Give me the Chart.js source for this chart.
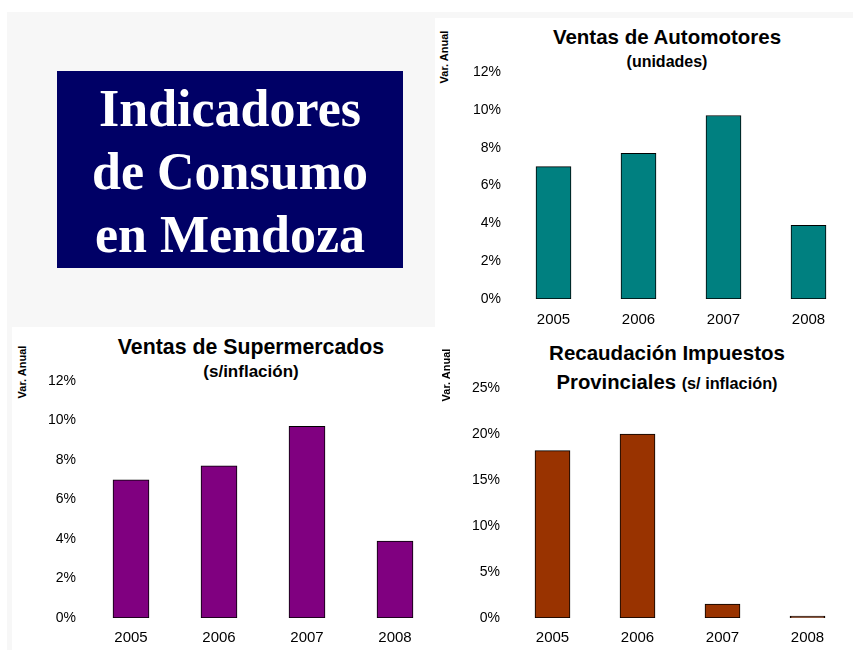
<!DOCTYPE html>
<html>
<head>
<meta charset="utf-8">
<script src="https://cdn.jsdelivr.net/npm/chart.js@4"></script>
<style>
  html, body { margin: 0; padding: 0; background: #fff; }
  body { width: 853px; height: 650px; position: relative; overflow: hidden;
         font-family: "Liberation Sans", Arial, sans-serif; }
  .gray { position: absolute; background: #f7f7f7; }
  .box { position: absolute; left: 57px; top: 71px; width: 346px; height: 197px;
         background: #000066; color: #fff; text-align: center; box-sizing: border-box;
         padding-top: 6px; font-family: "Liberation Serif", "Times New Roman", serif;
         font-weight: bold; font-size: 52px; line-height: 63px; }
  .chart { position: absolute; }
  .title { position: absolute; width: 400px; text-align: center; font-weight: bold;
           color: #000; white-space: nowrap; }
  .ytitle { position: absolute; font-weight: bold; font-size: 11px; white-space: nowrap;
            transform: translate(-50%, -50%) rotate(-90deg); color: #000; }
</style>
</head>
<body>
<div class="gray" style="left:7px;top:12px;width:428px;height:315px"></div>
<div class="gray" style="left:435px;top:12px;width:418px;height:6px"></div>
<div class="gray" style="left:7px;top:327px;width:5px;height:323px"></div>

<div class="box">Indicadores<br>de Consumo<br>en Mendoza</div>

<!-- Ventas de Automotores -->
<div class="title" style="left:467px;top:25px;font-size:20.5px;line-height:24px">Ventas de Automotores</div>
<div class="title" style="left:467px;top:52px;font-size:16px;line-height:20px">(unidades)</div>
<div class="ytitle" style="left:444px;top:57px">Var. Anual</div>
<div class="chart" style="left:435px;top:12px;width:418px;height:318px"><canvas id="autos"></canvas></div>

<!-- Ventas de Supermercados -->
<div class="title" style="left:51px;top:335px;font-size:21.3px;line-height:24px">Ventas de Supermercados</div>
<div class="title" style="left:51px;top:362px;font-size:17px;line-height:20px">(s/inflación)</div>
<div class="ytitle" style="left:22px;top:372px">Var. Anual</div>
<div class="chart" style="left:12px;top:327px;width:431px;height:323px"><canvas id="super"></canvas></div>

<!-- Recaudación Impuestos Provinciales -->
<div class="title" style="left:467px;top:341px;font-size:20.5px;line-height:24px">Recaudación Impuestos</div>
<div class="title" style="left:467px;top:370px;font-size:20.3px;line-height:24px">Provinciales <span style="font-size:16.3px">(s/ inflación)</span></div>
<div class="ytitle" style="left:446px;top:375px">Var. Anual</div>
<div class="chart" style="left:443px;top:327px;width:410px;height:323px"><canvas id="tax"></canvas></div>

<script>
// datos (variación anual, %)
const years = ['2005', '2006', '2007', '2008'];
const autoValues = [7.0, 7.7, 9.7, 3.9];
const superValues = [7.0, 7.7, 9.7, 3.9];
const taxValues = [18.2, 20.0, 1.5, 0.2];

// escalas del eje Y: [max, paso]
const autoScale = [12, 2];
const superScale = [12, 2];
const taxScale = [25, 5];

const FONT = '"Liberation Sans", Arial, sans-serif';

function makeChart(id, values, color, yScale, opt) {
    const ctx = document.getElementById(id).getContext('2d');
    return new Chart(ctx, {
        type: 'bar',
        data: {
            labels: years,
            datasets: [{
                data: values,
                backgroundColor: color,
                borderColor: '#000',
                borderWidth: 1,
                borderSkipped: false,
                barThickness: opt.bar
            }]
        },
        options: {
            responsive: true,
            maintainAspectRatio: false,
            animation: false,
            layout: { padding: { left: 0, right: opt.right, top: opt.top, bottom: 0 } },
            plugins: { legend: { display: false }, tooltip: { enabled: false }, title: { display: false } },
            scales: {
                x: {
                    grid: { display: false, drawTicks: false },
                    border: { display: false },
                    ticks: { color: '#000', padding: opt.xpad, font: { family: FONT, size: 15 } },
                    afterFit: s => { s.height = opt.xh; }
                },
                y: {
                    min: 0,
                    max: yScale[0],
                    grid: { display: false, drawTicks: false },
                    border: { display: false },
                    ticks: {
                        stepSize: yScale[1],
                        color: '#000',
                        padding: opt.ypad,
                        font: { family: FONT, size: 14 },
                        callback: v => v + '%'
                    },
                    afterFit: s => { s.width = opt.yw; }
                }
            }
        }
    });
}

makeChart('autos', autoValues, '#008080', autoScale,
    { bar: 35, right: 2, top: 60, xh: 31, yw: 76, xpad: 12, ypad: 10 });
makeChart('super', superValues, '#800080', superScale,
    { bar: 36, right: 4, top: 54, xh: 32, yw: 75, xpad: 11, ypad: 11 });
makeChart('tax', taxValues, '#993300', taxScale,
    { bar: 35, right: 3, top: 61, xh: 32, yw: 67, xpad: 11, ypad: 10 });
</script>
</body>
</html>
